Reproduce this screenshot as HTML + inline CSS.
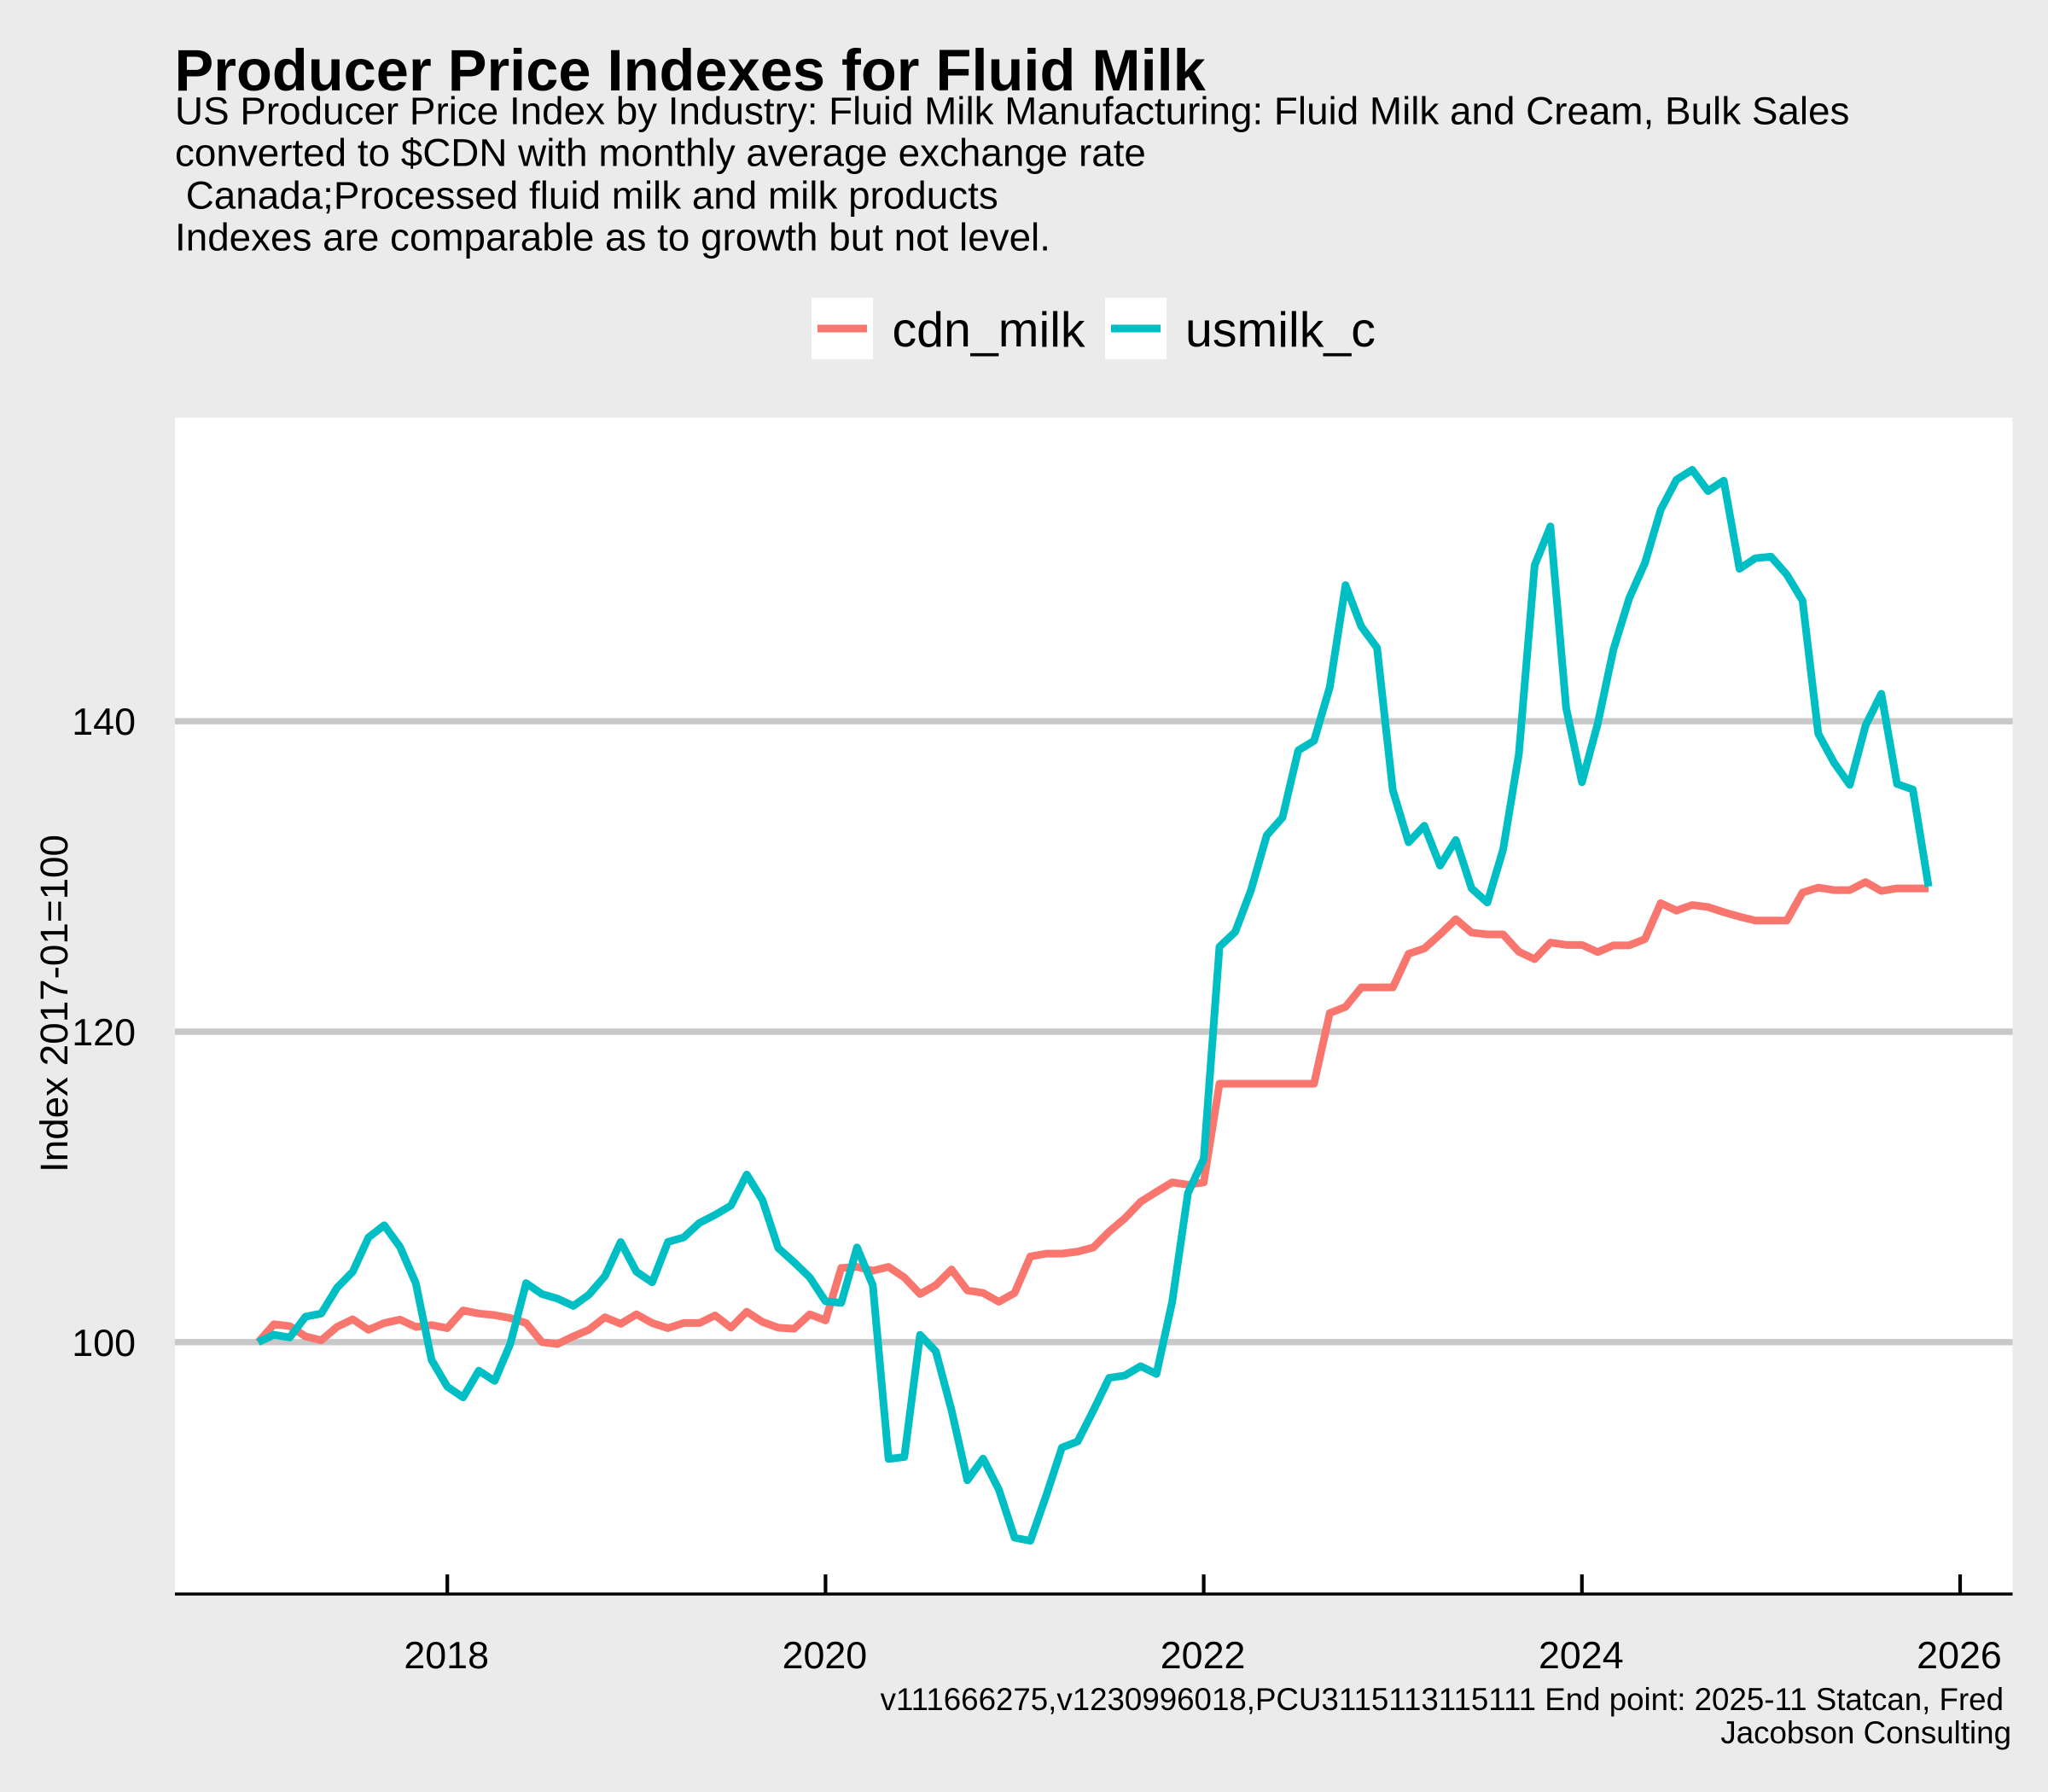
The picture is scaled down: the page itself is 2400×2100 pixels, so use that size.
<!DOCTYPE html>
<html lang="en">
<head>
<meta charset="utf-8">
<title>Producer Price Indexes for Fluid Milk</title>
<style>
html,body{margin:0;padding:0;background:#ebebeb;}
svg{display:block;}
text{font-family:"Liberation Sans",Arial,sans-serif;fill:#000;}
</style>
</head>
<body>
<svg id="chart" xmlns="http://www.w3.org/2000/svg" width="2400" height="2100" viewBox="0 0 2400 2100">
  <rect x="0" y="0" width="2400" height="2100" fill="#ebebeb"/>
  <text x="204.5" y="106" font-size="68.6" font-weight="bold">Producer Price Indexes for Fluid Milk</text>
  <text x="205" y="145.5" font-size="45.8">US Producer Price Index by Industry: Fluid Milk Manufacturing: Fluid Milk and Cream, Bulk Sales</text>
  <text x="205" y="194.5" font-size="45.8">converted to $CDN with monthly average exchange rate</text>
  <text x="205" y="244.5" font-size="45.8" xml:space="preserve"> Canada;Processed fluid milk and milk products</text>
  <text x="205" y="293.5" font-size="45.8">Indexes are comparable as to growth but not level.</text>

  <g>
    <rect x="951" y="349" width="72" height="72" fill="#fff"/>
    <line x1="958" x2="1016" y1="385" y2="385" stroke="#F8766D" stroke-width="9"/>
    <text x="1045.5" y="406" font-size="57.3">cdn_milk</text>
    <rect x="1295" y="349" width="72" height="72" fill="#fff"/>
    <line x1="1302" x2="1360" y1="385" y2="385" stroke="#00BFC4" stroke-width="9"/>
    <text x="1389" y="406" font-size="57.3">usmilk_c</text>
  </g>

  <rect x="205" y="489.5" width="2153.5" height="1380" fill="#fff"/>
  <g id="grid"></g>
  <g id="series"></g>
  <g id="xaxis"></g>
  <g id="yaxis"></g>

  <text transform="translate(79,1176) rotate(-90)" text-anchor="middle" font-size="45.8">Index 2017-01=100</text>
  <text x="2348" y="2004" text-anchor="end" font-size="36.7">v111666275,v1230996018,PCU3115113115111 End point: 2025-11 Statcan, Fred</text>
  <text x="2357" y="2043" text-anchor="end" font-size="36.7">Jacobson Consulting</text>
</svg>
<script>
const startYear = 2017;
const startMonth = 0;
const cdnMilk = [100.0,101.15,101.03,100.37,100.12,100.98,101.47,100.79,101.23,101.45,100.98,101.1,
100.9,102.04,101.84,101.74,101.55,101.23,100.0,99.88,100.37,100.81,101.6,101.18,
101.79,101.23,100.9,101.23,101.23,101.72,100.93,101.96,101.3,100.93,100.86,101.79,
101.4,104.78,104.85,104.6,104.85,104.17,103.1,103.67,104.68,103.33,103.17,102.6,
103.17,105.52,105.7,105.7,105.83,106.1,107.12,107.98,109.04,109.68,110.29,110.14,
110.29,116.65,116.65,116.65,116.65,116.65,116.65,116.65,121.2,121.6,122.85,122.85,
122.85,125.02,125.36,126.27,127.25,126.38,126.27,126.27,125.15,124.67,125.74,125.59,
125.59,125.13,125.56,125.56,125.97,128.28,127.8,128.16,128.03,127.7,127.41,127.16,
127.16,127.16,128.96,129.28,129.12,129.12,129.64,129.07,129.23,129.23,129.23];
const usMilkC = [100.0,100.47,100.3,101.64,101.84,103.5,104.54,106.75,107.53,106.13,103.8,98.85,
97.13,96.44,98.16,97.5,99.9,103.8,103.1,102.8,102.33,103.07,104.25,106.45,
104.54,103.85,106.45,106.75,107.68,108.2,108.8,110.8,109.15,106.06,105.15,104.17,
102.63,102.53,106.1,103.67,92.47,92.6,100.47,99.4,95.6,91.1,92.5,90.5,
87.4,87.2,90.1,93.2,93.6,95.6,97.7,97.85,98.45,97.95,102.6,109.6,
111.8,125.47,126.43,129.12,132.65,133.8,138.12,138.74,142.2,148.77,146.1,144.73,
135.55,132.2,133.27,130.7,132.35,129.23,128.32,131.74,137.9,150.04,152.55,140.86,
136.07,139.83,144.62,147.92,150.2,153.62,155.56,156.2,154.83,155.5,149.82,150.5,
150.6,149.45,147.77,139.2,137.33,135.9,139.72,141.77,135.96,135.6,129.35];
const xTickYears = [2018,2020,2022,2024,2026];
const yTickValues = [100,120,140];

// Axis functions
function xScale(yearFraction){ return 524.2 + (yearFraction - 2018) * 221.6; }
function yScale(value){ return 1572.8 - (value - 100) * 18.19; }

const NS = 'http://www.w3.org/2000/svg';

function monthToYear(i){ return startYear + (startMonth + i) / 12; }

const grid = document.getElementById('grid');
const yaxis = document.getElementById('yaxis');
yTickValues.forEach(function(v){
  const g = document.createElementNS(NS,'line');
  
  
  g.setAttribute('x1', 205);
  g.setAttribute('x2', 2358.5);
  g.setAttribute('y1', yScale(v));
  g.setAttribute('y2', yScale(v));
  g.setAttribute('stroke', '#c8c8c8');
  g.setAttribute('stroke-width', 7.4);
  grid.appendChild(g);
  const t = document.createElementNS(NS,'text');
  
  
  t.setAttribute('x', 159);
  t.setAttribute('y', yScale(v) + 16);
  t.setAttribute('text-anchor', 'end');
  t.setAttribute('font-size', 44.8);
  t.textContent = v;
  yaxis.appendChild(t);
});

const xaxis = document.getElementById('xaxis');
const axisLine = document.createElementNS(NS,'line');


axisLine.setAttribute('x1', 205);
axisLine.setAttribute('x2', 2358.5);
axisLine.setAttribute('y1', 1868);
axisLine.setAttribute('y2', 1868);
axisLine.setAttribute('stroke', '#000');
axisLine.setAttribute('stroke-width', 3.4);
xaxis.appendChild(axisLine);
xTickYears.forEach(function(yr){
  const tick = document.createElementNS(NS,'line');
  
  
  tick.setAttribute('x1', xScale(yr));
  tick.setAttribute('x2', xScale(yr));
  tick.setAttribute('y1', 1845);
  tick.setAttribute('y2', 1868);
  tick.setAttribute('stroke', '#000');
  tick.setAttribute('stroke-width', 4.2);
  xaxis.appendChild(tick);
  const label = document.createElementNS(NS,'text');
  
  
  label.setAttribute('x', xScale(yr) - 1);
  label.setAttribute('y', 1955);
  label.setAttribute('text-anchor', 'middle');
  label.setAttribute('font-size', 44.8);
  label.textContent = yr;
  xaxis.appendChild(label);
});

function buildPath(values){
  return values.map(function(v,i){
    return (i ? 'L' : 'M') + xScale(monthToYear(i)).toFixed(2) + ' ' + yScale(v).toFixed(2);
  }).join(' ');
}

const series = document.getElementById('series');
const cdnPath = document.createElementNS(NS,'path');


cdnPath.setAttribute('d', buildPath(cdnMilk));
cdnPath.setAttribute('fill', 'none');
cdnPath.setAttribute('stroke', '#F8766D');
cdnPath.setAttribute('stroke-width', 9);
cdnPath.setAttribute('stroke-linejoin', 'round');
series.appendChild(cdnPath);

const usPath = document.createElementNS(NS,'path');


usPath.setAttribute('d', buildPath(usMilkC));
usPath.setAttribute('fill', 'none');
usPath.setAttribute('stroke', '#00BFC4');
usPath.setAttribute('stroke-width', 9);
usPath.setAttribute('stroke-linejoin', 'round');
series.appendChild(usPath);
</script>
</body>
</html>
